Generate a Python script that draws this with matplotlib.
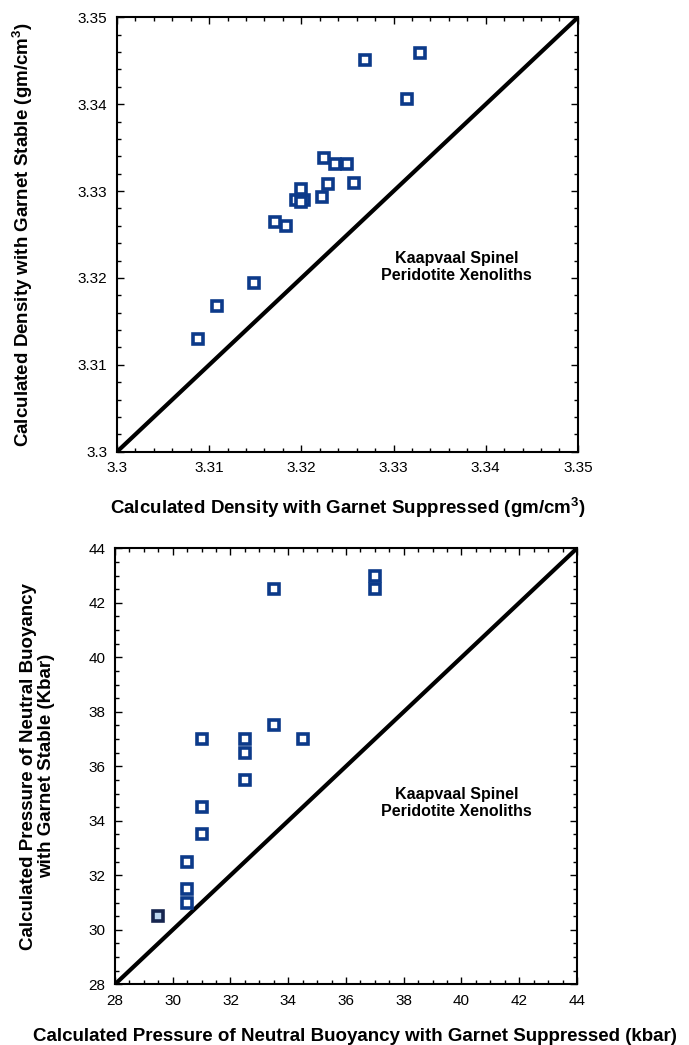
import matplotlib
matplotlib.use("Agg")
import matplotlib.pyplot as plt
from matplotlib.ticker import MultipleLocator, FormatStrFormatter

plt.rcParams["font.family"] = ["Liberation Sans", "DejaVu Sans"]
plt.rcParams["mathtext.fontset"] = "custom"
plt.rcParams["mathtext.rm"] = "Liberation Sans:bold"
plt.rcParams["mathtext.bf"] = "Liberation Sans:bold"

# densidad calculada (gm/cm3): granate suprimido vs granate estable
densidad_suprimido = [3.3088, 3.3108, 3.3149, 3.3171, 3.3183, 3.3200, 3.3194, 3.3203, 3.3200,
                      3.3222, 3.3229, 3.3225, 3.3237, 3.3250, 3.3257, 3.3269, 3.3315, 3.3329]
densidad_estable = [3.3130, 3.3168, 3.3194, 3.3265, 3.3260, 3.3303, 3.3290, 3.3290, 3.3287,
                    3.3293, 3.3308, 3.3338, 3.3331, 3.3331, 3.3309, 3.3451, 3.3406, 3.3459]

# presion de flotabilidad neutra (kbar)
presion_suprimido = [30.5, 30.5, 30.5, 31.0, 31.0, 31.0, 32.5, 32.5, 32.5, 33.5, 33.5, 34.5, 37.0, 37.0]
presion_estable = [31.0, 31.5, 32.5, 33.5, 34.5, 37.0, 35.5, 36.5, 37.0, 37.5, 42.5, 37.0, 42.5, 43.0]
# punto resaltado
presion_especial_x = [29.5]
presion_especial_y = [30.5]

azul = "#0c3a8a"


def estilo_ejes(ax, mayor, menor, fmt):
    ax.xaxis.set_major_locator(MultipleLocator(mayor))
    ax.yaxis.set_major_locator(MultipleLocator(mayor))
    ax.xaxis.set_minor_locator(MultipleLocator(menor))
    ax.yaxis.set_minor_locator(MultipleLocator(menor))
    ax.xaxis.set_major_formatter(FormatStrFormatter(fmt))
    ax.yaxis.set_major_formatter(FormatStrFormatter(fmt))
    ax.tick_params(which="both", direction="in", top=True, right=True, width=1.0)
    ax.tick_params(which="major", length=5, labelsize=11, pad=7)
    ax.tick_params(which="minor", length=3)
    for s in ax.spines.values():
        s.set_linewidth(1.5)


def fmt_densidad(v, pos):
    return ("%.2f" % v).rstrip("0").rstrip(".")


fig = plt.figure(figsize=(6.89, 10.45), dpi=100)

# grafico 1: densidad
ax1 = fig.add_axes([0.1698, 0.5677, 0.669, 0.4157])
ax1.plot([3.3, 3.35], [3.3, 3.35], color="black", lw=3)
ax1.plot(densidad_suprimido, densidad_estable, "s", ms=7, mew=2.6,
         mec=azul, mfc="white", ls="none")
ax1.set_xlim(3.3, 3.35)
ax1.set_ylim(3.3, 3.35)
estilo_ejes(ax1, 0.01, 0.002, "%.2f")
ax1.xaxis.set_major_formatter(plt.FuncFormatter(fmt_densidad))
ax1.yaxis.set_major_formatter(plt.FuncFormatter(fmt_densidad))
ax1.set_xlabel(r"Calculated Density with Garnet Suppressed (gm/cm$^{3}$)",
               fontsize=13.5, fontweight="bold")
ax1.set_ylabel(r"Calculated Density with Garnet Stable (gm/cm$^{3}$)",
               fontsize=13.5, fontweight="bold")
ax1.xaxis.set_label_coords(0.5, -0.1)
ax1.yaxis.set_label_coords(-0.178, 0.5)
ax1.text(0.737, 0.426, "Kaapvaal Spinel\nPeridotite Xenoliths", transform=ax1.transAxes,
         ha="center", va="center", fontsize=11.5, fontweight="bold", linespacing=1.15)

# grafico 2: presion
ax2 = fig.add_axes([0.1669, 0.0581, 0.6705, 0.4172])
ax2.plot([28, 44], [28, 44], color="black", lw=3)
ax2.plot(presion_suprimido, presion_estable, "s", ms=7, mew=2.6,
         mec=azul, mfc="white", ls="none")
ax2.plot(presion_especial_x, presion_especial_y, "s", ms=7, mew=2.6,
         mec="#16254f", mfc="#bcd6f0", ls="none")
ax2.set_xlim(28, 44)
ax2.set_ylim(28, 44)
estilo_ejes(ax2, 2, 0.5, "%d")
ax2.set_xlabel("Calculated Pressure of Neutral Buoyancy with Garnet Suppressed (kbar)",
               fontsize=13.5, fontweight="bold")
ax2.set_ylabel("Calculated Pressure of Neutral Buoyancy\nwith Garnet Stable (Kbar)",
               fontsize=13.5, fontweight="bold", linespacing=1.1)
ax2.xaxis.set_label_coords(0.52, -0.1)
ax2.yaxis.set_label_coords(-0.13, 0.5)
ax2.text(0.74, 0.415, "Kaapvaal Spinel\nPeridotite Xenoliths", transform=ax2.transAxes,
         ha="center", va="center", fontsize=11.5, fontweight="bold", linespacing=1.15)

fig.savefig("out.png", dpi=100)
